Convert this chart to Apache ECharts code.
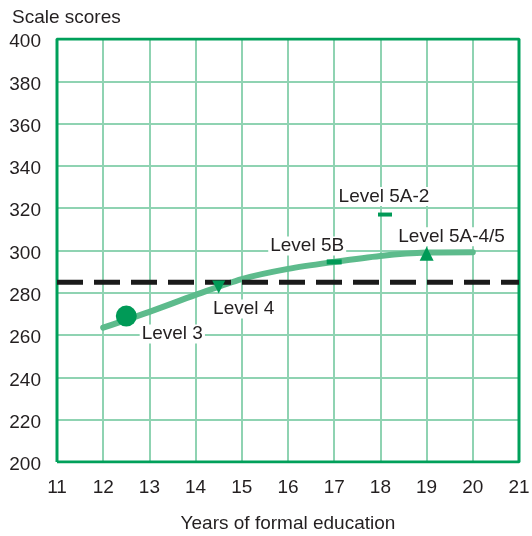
<!DOCTYPE html>
<html>
<head>
<meta charset="utf-8">
<script src="https://cdn.jsdelivr.net/npm/echarts@6/dist/echarts.min.js"></script>
<style>
  html, body { margin: 0; padding: 0; background: #fff; }
  #chart { width: 532px; height: 536px; }
</style>
</head>
<body>
<div id="chart"></div>
<script>
// curve of scale score by years of formal education
var curveYears = [12, 13, 14, 15, 16, 17, 18, 19, 20];
var curveScores = [263.5, 271, 279, 286.5, 291.3, 294.6, 297.4, 299, 299.2];

// education levels marked on the curve
var levelNames = ['Level 3', 'Level 4', 'Level 5B', 'Level 5A-2', 'Level 5A-4/5'];
var levelYears = [12.5, 14.5, 17, 18.1, 19];
var levelScores = [269, 282.7, 294.6, 317, 298.5];

var thresholdScore = 285;
var yTicks = [200, 220, 240, 260, 280, 300, 320, 340, 360, 380, 400];
var xTicks = [11, 12, 13, 14, 15, 16, 17, 18, 19, 20, 21];

var FONT = "'Liberation Sans', Arial, sans-serif";
var FS = 19;
var TXT = '#231f20';
var dark = '#009a57';

// marker look and label offset for each level
var levelStyle = {
  'Level 3':      { symbol: 'circle', size: 21, offset: [46, 18] },
  'Level 4':      { symbol: 'triangle', size: 13, rotate: 180, offset: [25, 22] },
  'Level 5B':     { symbol: 'rect', size: [15, 5], offset: [-27, -16] },
  'Level 5A-2':   { symbol: 'rect', size: [14, 4], offset: [-1, -18] },
  'Level 5A-4/5': { symbol: 'triangle', size: 14, offset: [25, -17] }
};

var chart = echarts.init(document.getElementById('chart'));

var levelData = levelNames.map(function (n, i) {
  var s = levelStyle[n];
  return {
    name: n,
    value: [levelYears[i], levelScores[i]],
    symbol: s.symbol,
    symbolSize: s.size,
    symbolRotate: s.rotate || 0,
    label: {
      show: true,
      formatter: n,
      position: 'inside',
      offset: s.offset,
      fontFamily: FONT,
      fontSize: FS,
      color: TXT,
      backgroundColor: '#fff',
      padding: [0, 2]
    }
  };
});

var option = {
  animation: false,
  backgroundColor: '#fff',
  title: {
    text: 'Scale scores',
    left: 7,
    top: 3,
    textStyle: { fontFamily: FONT, fontSize: FS, fontWeight: 'normal', color: TXT }
  },
  grid: { left: 57, right: 13, top: 39, bottom: 74, outerBoundsMode: 'none' },
  xAxis: {
    type: 'value',
    min: 11, max: 21, interval: 1,
    name: 'Years of formal education',
    nameLocation: 'middle',
    nameGap: 52,
    nameTextStyle: { fontFamily: FONT, fontSize: FS, color: TXT },
    axisLine: { show: false },
    axisTick: { show: false },
    axisLabel: {
      margin: 16, fontFamily: FONT, fontSize: FS, color: TXT,
      formatter: function (v) { return xTicks.indexOf(v) >= 0 ? v : ''; }
    },
    splitLine: { show: true, lineStyle: { color: '#8fd3b2', width: 2 } }
  },
  yAxis: {
    type: 'value',
    min: 200, max: 400, interval: 20,
    axisLine: { show: false },
    axisTick: { show: false },
    axisLabel: {
      margin: 16, fontFamily: FONT, fontSize: FS, color: TXT,
      formatter: function (v) { return yTicks.indexOf(v) >= 0 ? '{v|' + v + '}' : ''; },
      rich: { v: { fontFamily: FONT, fontSize: FS, color: TXT, padding: [6, 0, 0, 0] } }
    },
    splitLine: { show: true, lineStyle: { color: '#8fd3b2', width: 2 } }
  },
  series: [
    {
      // green frame around the plot
      type: 'line',
      silent: true,
      symbol: 'none',
      data: [[11, 200], [21, 200], [21, 400], [11, 400], [11, 200]],
      lineStyle: { color: '#00a05a', width: 3 },
      z: 1
    },
    {
      type: 'line',
      symbol: 'none',
      smooth: 0.3,
      data: curveYears.map(function (x, i) { return [x, curveScores[i]]; }),
      lineStyle: { color: '#5dbb8c', width: 6, cap: 'round' },
      z: 3
    },
    {
      type: 'line',
      symbol: 'none',
      data: [[11, thresholdScore], [21, thresholdScore]],
      lineStyle: { color: '#1a1a1a', width: 5, type: [26, 11] },
      z: 4
    },
    {
      type: 'scatter',
      data: levelData,
      itemStyle: { color: dark, opacity: 1 },
      z: 5
    }
  ]
};

chart.setOption(option);
</script>
</body>
</html>
